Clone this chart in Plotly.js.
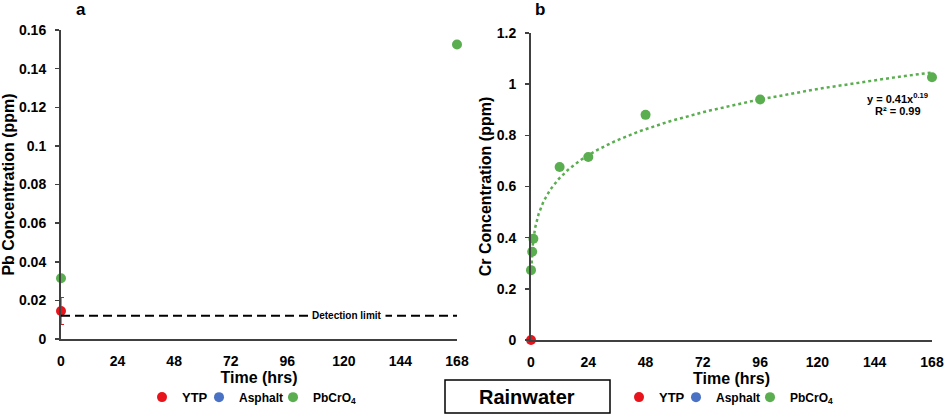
<!DOCTYPE html>
<html>
<head>
<meta charset="utf-8">
<script src="https://cdn.plot.ly/plotly-3.0.1.min.js"></script>
<style>html,body{margin:0;padding:0;background:#fff;}#chart{width:948px;height:415px;}</style>
</head>
<body>
<div id="chart"></div>
<script>
// ---- data ----
const timeTicks = [0, 24, 48, 72, 96, 120, 144, 168];
const timeTickText = ['0', '24', '48', '72', '96', '120', '144', '168'];

const pbTickVals = [0, 0.02, 0.04, 0.06, 0.08, 0.1, 0.12, 0.14, 0.16];
const pbTickText = ['0', '0.02', '0.04', '0.06', '0.08', '0.1', '0.12', '0.14', '0.16'];
const crTickVals = [0, 0.2, 0.4, 0.6, 0.8, 1.0, 1.2];
const crTickText = ['0', '0.2', '0.4', '0.6', '0.8', '1', '1.2'];

// Panel a: Pb
const pbTimePbCrO4 = [0, 168];
const pbPbCrO4 = [0.0315, 0.1525];
const pbTimeYTP = [0];
const pbYTP = [0.0145];
const pbYTPErr = [0.007];
const detectionLimit = 0.012;

// Panel b: Cr
const crTimePbCrO4 = [0, 0.5, 1, 12, 24, 48, 96, 168];
const crPbCrO4 = [0.273, 0.345, 0.396, 0.676, 0.715, 0.88, 0.94, 1.027];
const crTimeYTP = [0];
const crYTP = [0];

// power trendline y = a * x^b (as drawn)
const fitA = 0.395;
const fitB = 0.19;
const fitXStart = 0.15;
const fitXEnd = 168;

// ---- styling ----
const RED = '#e8141c';
const BLUE = '#4a72c4';
const GREEN = '#5aae50';
const FONT = 'Liberation Sans, Arial, sans-serif';
const AXC = '#404040';

const fitX = [];
const fitY = [];
const nFit = 200;
for (let i = 0; i <= nFit; i++) {
  const x = fitXStart * Math.pow(fitXEnd / fitXStart, i / nFit);
  fitX.push(x);
  fitY.push(fitA * Math.pow(x, fitB));
}

const mk = (c) => ({color: c, size: 10});

const traces = [
  // panel a
  {x: pbTimePbCrO4, y: pbPbCrO4, xaxis: 'x', yaxis: 'y', mode: 'markers', type: 'scatter',
   name: 'PbCrO<sub>4</sub>', marker: mk(GREEN), cliponaxis: false, legend: 'legend3'},
  {x: [null], y: [null], xaxis: 'x', yaxis: 'y', mode: 'markers', type: 'scatter',
   name: 'Asphalt', marker: mk(BLUE), legend: 'legend2'},
  {x: pbTimeYTP, y: pbYTP, xaxis: 'x', yaxis: 'y', mode: 'markers', type: 'scatter',
   name: 'YTP', marker: mk(RED), cliponaxis: false, showlegend: false,
   error_y: {type: 'data', array: pbYTPErr, visible: true, color: RED, thickness: 1.2, width: 3}},
  {x: [null], y: [null], xaxis: 'x', yaxis: 'y', mode: 'markers', type: 'scatter',
   name: 'YTP', marker: mk(RED), legend: 'legend'},
  // panel b
  {x: fitX, y: fitY, xaxis: 'x2', yaxis: 'y2', mode: 'lines', type: 'scatter',
   line: {color: GREEN, width: 2.5, dash: 'dot'}, showlegend: false, hoverinfo: 'skip'},
  {x: crTimePbCrO4, y: crPbCrO4, xaxis: 'x2', yaxis: 'y2', mode: 'markers', type: 'scatter',
   name: 'PbCrO<sub>4</sub>', marker: mk(GREEN), cliponaxis: false, legend: 'legend6'},
  {x: [null], y: [null], xaxis: 'x2', yaxis: 'y2', mode: 'markers', type: 'scatter',
   name: 'Asphalt', marker: mk(BLUE), legend: 'legend5'},
  {x: crTimeYTP, y: crYTP, xaxis: 'x2', yaxis: 'y2', mode: 'markers', type: 'scatter',
   name: 'YTP', marker: mk(RED), cliponaxis: false, legend: 'legend4'}
];

const tickFont = {family: FONT, size: 14, color: '#000', weight: 'bold'};
const titleFont = {family: FONT, size: 16, color: '#000', weight: 'bold'};

const xCommon = {
  range: [0, 168], tickvals: timeTicks, ticktext: timeTickText,
  showline: true, linecolor: AXC, linewidth: 2, ticks: '', showgrid: false, zeroline: false,
  tickfont: tickFont, ticklabelstandoff: 8,
  title: {text: 'Time (hrs)', font: titleFont, standoff: 4}
};
const yCommon = {
  showline: true, linecolor: AXC, linewidth: 2, ticks: 'outside', ticklen: 4, tickwidth: 1.5,
  tickcolor: AXC, showgrid: false, zeroline: false, tickfont: tickFont, ticklabelstandoff: 6
};

const legendCommon = {
  orientation: 'h', xanchor: 'left', yanchor: 'middle', y: 0.043,
  bgcolor: 'rgba(0,0,0,0)', itemwidth: 30, borderwidth: 0
};
// desired legend marker centres (px) and text sizes
const legendMarkerPx = [162, 219, 293, 639, 696, 770];
const legendFontSize = [13, 12, 12, 13, 12, 12];
const legendNames = ['legend', 'legend2', 'legend3', 'legend4', 'legend5', 'legend6'];
const MARKER_OFFSET = 20;

const layout = {
  width: 948, height: 415,
  margin: {l: 0, r: 0, t: 0, b: 0},
  paper_bgcolor: '#fff', plot_bgcolor: '#fff',
  showlegend: true,
  font: {family: FONT, color: '#000'},
  xaxis: Object.assign({}, xCommon, {domain: [61 / 948, 457 / 948], anchor: 'y'}),
  yaxis: Object.assign({}, yCommon, {
    domain: [(415 - 339) / 415, (415 - 30) / 415], anchor: 'x',
    range: [0, 0.16], tickvals: pbTickVals, ticktext: pbTickText,
    title: {text: 'Pb Concentration (ppm)', font: titleFont, standoff: 8}
  }),
  xaxis2: Object.assign({}, xCommon, {domain: [531 / 948, 932 / 948], anchor: 'y2'}),
  yaxis2: Object.assign({}, yCommon, {
    domain: [(415 - 340) / 415, (415 - 33) / 415], anchor: 'x2',
    range: [0, 1.2], tickvals: crTickVals, ticktext: crTickText,
    title: {text: 'Cr Concentration (ppm)', font: titleFont, standoff: 1}
  }),
  shapes: [
    {type: 'line', xref: 'x', yref: 'y', x0: 0, x1: 168, y0: detectionLimit, y1: detectionLimit,
     line: {color: '#000', width: 2, dash: '9px,5px'}},
    {type: 'rect', xref: 'paper', yref: 'paper', x0: 445 / 948, x1: 610 / 948,
     y0: 2 / 415, y1: (415 - 380) / 415, line: {color: '#000', width: 1.5}}
  ],
  annotations: [
    {xref: 'paper', yref: 'paper', x: 81 / 948, y: (415 - 10) / 415, text: 'a', showarrow: false,
     xanchor: 'center', yanchor: 'middle', font: {family: FONT, size: 17, color: '#000', weight: 'bold'}},
    {xref: 'paper', yref: 'paper', x: 540 / 948, y: (415 - 10) / 415, text: 'b', showarrow: false,
     xanchor: 'center', yanchor: 'middle', font: {family: FONT, size: 17, color: '#000', weight: 'bold'}},
    {xref: 'x', yref: 'y', x: 121.5, y: detectionLimit, text: 'Detection limit', showarrow: false,
     xanchor: 'center', yanchor: 'middle', bgcolor: '#fff', borderpad: 3,
     font: {family: FONT, size: 10, color: '#000', weight: 'bold'}},
    {xref: 'paper', yref: 'paper', x: 897 / 948, y: (415 - 98) / 415, text: 'y = 0.41x<sup>0.19</sup>',
     showarrow: false, xanchor: 'center', yanchor: 'middle',
     font: {family: FONT, size: 11, color: '#000', weight: 'bold'}},
    {xref: 'paper', yref: 'paper', x: 898 / 948, y: (415 - 111) / 415, text: 'R² = 0.99',
     showarrow: false, xanchor: 'center', yanchor: 'middle',
     font: {family: FONT, size: 11, color: '#000', weight: 'bold'}},
    {xref: 'paper', yref: 'paper', x: 527 / 948, y: (415 - 397) / 415, text: 'Rainwater',
     showarrow: false, xanchor: 'center', yanchor: 'middle',
     font: {family: FONT, size: 20, color: '#000', weight: 'bold'}}
  ]
};
legendNames.forEach((n, i) => {
  layout[n] = Object.assign({}, legendCommon, {
    x: (legendMarkerPx[i] - MARKER_OFFSET) / 948,
    font: {family: FONT, size: legendFontSize[i], color: '#000', weight: 'bold'}
  });
});

Plotly.newPlot('chart', traces, layout, {displayModeBar: false, staticPlot: true});
</script>
</body>
</html>
